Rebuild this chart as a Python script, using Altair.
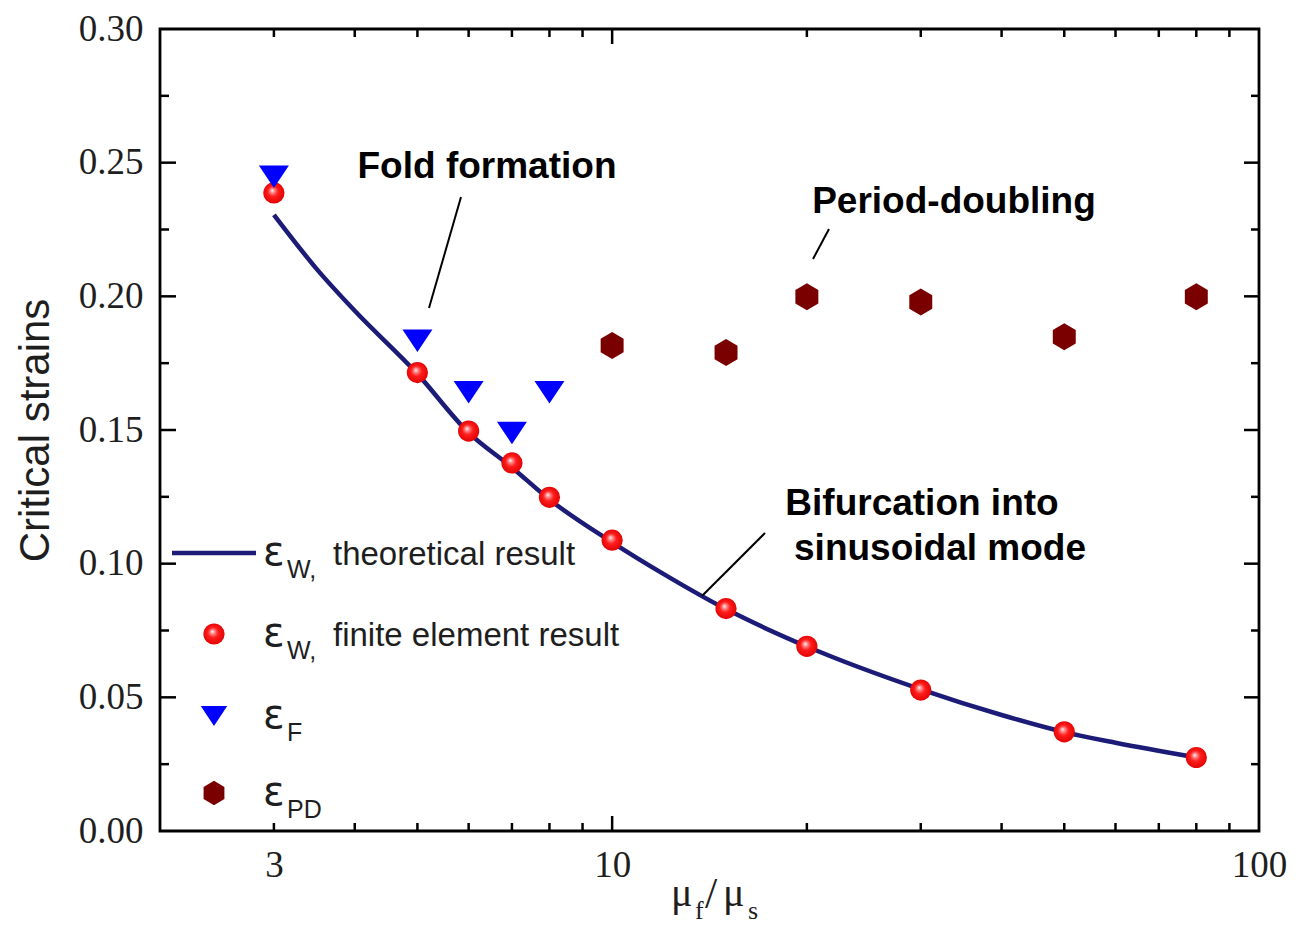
import altair as alt
import pandas as pd

# ---------------- data ----------------
fe_x = [3, 5, 6, 7, 8, 10, 15, 20, 30, 50, 80]
fe_y = [0.2387, 0.1715, 0.1496, 0.1377, 0.1248, 0.1088, 0.0832, 0.0691, 0.0527, 0.0371, 0.0275]

fold_x = [3, 5, 6, 7, 8]
fold_y = [0.2447, 0.1834, 0.1641, 0.1489, 0.1641]

pd_x = [10, 15, 20, 30, 50, 80]
pd_y = [0.1816, 0.1790, 0.1998, 0.1979, 0.1849, 0.1998]

th_x = [3, 3.5, 4, 5, 6, 7, 8, 10, 12, 15, 20, 30, 40, 50, 60, 80]
th_y = [0.2305, 0.210, 0.1946, 0.171, 0.149, 0.136, 0.124, 0.108, 0.0962, 0.083, 0.069, 0.053, 0.0434, 0.037, 0.033, 0.0275]

x_tick_labels = [3, 10, 100]
y_tick_labels = [0, 0.05, 0.10, 0.15, 0.20, 0.25, 0.30]
x_minor = [3, 4, 5, 6, 7, 8, 9, 20, 30, 40, 50, 60, 70, 80, 90]
x_major = [10]
y_major = [0.05, 0.10, 0.15, 0.20, 0.25]
y_minor = [0.025, 0.075, 0.125, 0.175, 0.225, 0.275]

TOP = 21                    # plot top edge is at page y = 8 + TOP
H = 831 - 8 - TOP           # plot bottom stays at page y = 831
W = 1099
SERIF = "Liberation Serif"
SANS = "Liberation Sans"
TXT = "#1e1e1e"

xscale = alt.Scale(type="log", domain=[2, 100], nice=False)
yscale = alt.Scale(domain=[0, 0.30], nice=False, zero=False)

x_axis = alt.Axis(
    values=x_tick_labels, format="~g", ticks=False, domain=False, grid=False,
    labelFont=SERIF, labelFontSize=37, labelColor=TXT, labelPadding=16,
    title=None, labelFlush=False,
)
y_axis = alt.Axis(
    values=y_tick_labels, format=".2f", ticks=False,
    domain=False, grid=False, labelFont=SERIF, labelFontSize=37, labelColor=TXT,
    labelPadding=17, title="Critical strains", titleFont=SANS, titleFontSize=42,
    titleFontWeight="normal", titleColor=TXT, titlePadding=21, labelFlush=False,
)

sphere = alt.RadialGradient(
    gradient="radial",
    stops=[
        alt.GradientStop(offset=0.0, color="#ffffff"),
        alt.GradientStop(offset=0.18, color="#ff8a8a"),
        alt.GradientStop(offset=0.45, color="#ff1c1c"),
        alt.GradientStop(offset=1.0, color="#dd0000"),
    ],
    x1=0.42, y1=0.38, r1=0.0, x2=0.5, y2=0.5, r2=0.55,
)
TRI = "M-1,-0.75L1,-0.75L0,0.75Z"
HEX = "M0,-1L0.85,-0.5L0.85,0.5L0,1L-0.85,0.5L-0.85,-0.5Z"

one = pd.DataFrame({"k": [0]})


def xenc(field):
    return alt.X(field, type="quantitative", scale=xscale, axis=x_axis, title=None)


def yenc(field):
    return alt.Y(field, type="quantitative", scale=yscale, axis=y_axis, title="Critical strains")


# ---------------- main series ----------------
th_df = pd.DataFrame({"x": th_x, "y": th_y})
fe_df = pd.DataFrame({"x": fe_x, "y": fe_y})
fold_df = pd.DataFrame({"x": fold_x, "y": fold_y})
pd_df = pd.DataFrame({"x": pd_x, "y": pd_y})

theory = alt.Chart(th_df).mark_line(
    color="#1c1c78", strokeWidth=4.5, interpolate="monotone"
).encode(x=xenc("x"), y=yenc("y"))

fe = alt.Chart(fe_df).mark_point(
    shape="circle", filled=True, fill=sphere, strokeWidth=0, size=450, opacity=1
).encode(x=xenc("x"), y=yenc("y"))

fold = alt.Chart(fold_df).mark_point(
    shape=TRI, filled=True, color="#0000ff", size=900, opacity=1, strokeWidth=0
).encode(x=xenc("x"), y=yenc("y"))

pdm = alt.Chart(pd_df).mark_point(
    shape=HEX, filled=True, color="#7a0000", size=729, opacity=1, strokeWidth=0
).encode(x=xenc("x"), y=yenc("y"))


# ---------------- inward ticks ----------------
def xticks(vals, length, top=False):
    d = pd.DataFrame({"x": vals})
    if top:
        y0, y1 = 0, length
    else:
        y0, y1 = H, H - length
    return alt.Chart(d).mark_rule(color="black", strokeWidth=2.5).encode(
        x=xenc("x"), y=alt.value(y0), y2=alt.value(y1)
    )


def yticks(vals, length, right=False):
    d = pd.DataFrame({"y": vals})
    if right:
        x0, x1 = W, W - length
    else:
        x0, x1 = 0, length
    return alt.Chart(d).mark_rule(color="black", strokeWidth=2.5).encode(
        y=yenc("y"), x=alt.value(x0), x2=alt.value(x1)
    )


ticks = [
    xticks(x_minor, 8), xticks(x_major, 15),
    xticks(x_minor, 8, top=True), xticks(x_major, 15, top=True),
    yticks(y_minor, 9), yticks(y_major, 16),
    yticks(y_minor, 8, right=True), yticks(y_major, 15, right=True),
]


# ---------------- annotations ----------------
OY = 23 - 8 - TOP  # keep annotation positions fixed on the page


def text(t, x, y, size, font=SANS, weight="normal", align="left", color=TXT, baseline="alphabetic"):
    return alt.Chart(one).mark_text(
        text=t, font=font, fontSize=size, fontWeight=weight, align=align,
        baseline=baseline, color=color,
    ).encode(x=alt.value(x), y=alt.value(y + OY))


def seg(x0, y0, x1, y1, width=2, color="black"):
    return alt.Chart(one).mark_rule(color=color, strokeWidth=width).encode(
        x=alt.value(x0), y=alt.value(y0 + OY), x2=alt.value(x1), y2=alt.value(y1 + OY)
    )


annots = [
    text("Fold formation", 327, 155, 37, weight="bold", align="center", color="black"),
    seg(301, 174, 269, 285),
    text("Period-doubling", 794, 190, 37, weight="bold", align="center", color="black"),
    seg(669, 206, 653, 236),
    text("Bifurcation into", 762, 492, 37, weight="bold", align="center", color="black"),
    text("sinusoidal mode", 780, 537, 37, weight="bold", align="center", color="black"),
    seg(605, 510, 542, 573),
]

# x-axis title  mu_f / mu_s
xtitle = [
    text("μ", 511, 883, 40, font=SERIF),
    text("f", 535, 896, 26, font=SERIF),
    text("/", 545, 885, 44, font=SERIF),
    text("μ", 563, 883, 40, font=SERIF),
    text("s", 588, 896, 26, font=SERIF),
]

# ---------------- legend ----------------
LX = 54
legend = [
    seg(12, 530, 96, 530, width=4.5, color="#1c1c78"),
    alt.Chart(one).mark_point(shape="circle", filled=True, fill=sphere, strokeWidth=0,
                              size=450, opacity=1).encode(x=alt.value(LX), y=alt.value(611 + OY)),
    alt.Chart(one).mark_point(shape=TRI, filled=True, color="#0000ff", size=700,
                              opacity=1, strokeWidth=0).encode(x=alt.value(LX), y=alt.value(693 + OY)),
    alt.Chart(one).mark_point(shape=HEX, filled=True, color="#7a0000", size=600,
                              opacity=1, strokeWidth=0).encode(x=alt.value(LX), y=alt.value(770 + OY)),
]
rows = [(530, "W,", "theoretical result"), (611, "W,", "finite element result"),
        (693, "F", ""), (770, "PD", "")]
for cy, sub, rest in rows:
    legend.append(text("ε", 103, cy + 12, 40, font="DejaVu Sans"))
    legend.append(text(sub, 127, cy + 25, 25))
    if rest:
        legend.append(text(rest, 173, cy + 12, 33))

chart = alt.layer(theory, *ticks, fe, fold, pdm, *annots, *xtitle, *legend).properties(
    width=W, height=H,
    autosize=alt.AutoSizeParams(type="none"),
    padding={"left": 152, "top": TOP, "right": 40, "bottom": 94},
).configure_view(stroke="black", strokeWidth=2.8)

chart.save("out.html", embed_options={"renderer": "svg", "actions": False})
